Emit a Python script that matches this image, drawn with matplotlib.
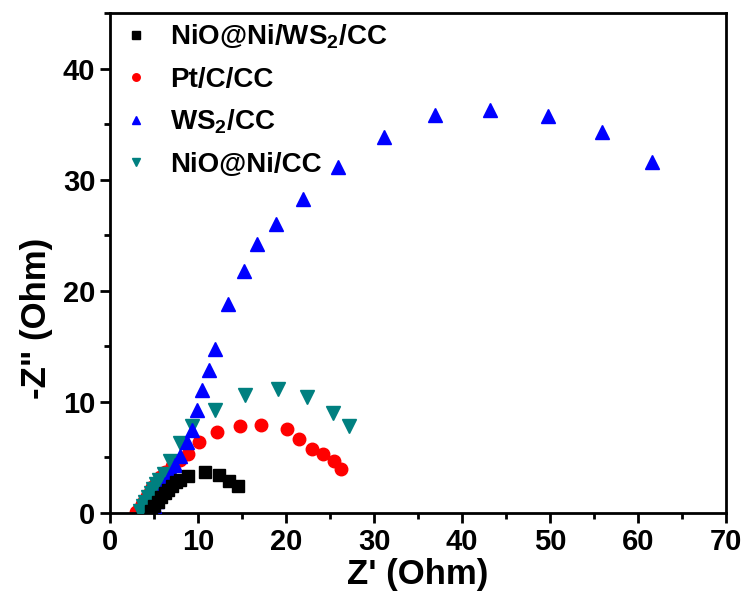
import matplotlib
matplotlib.use("Agg")
import matplotlib.pyplot as plt
from matplotlib.ticker import MultipleLocator

plt.rcParams['font.family'] = ['Liberation Sans', 'DejaVu Sans']
plt.rcParams['font.weight'] = 'bold'
plt.rcParams['mathtext.fontset'] = 'custom'
plt.rcParams['mathtext.rm'] = 'Liberation Sans:bold'
plt.rcParams['mathtext.bf'] = 'Liberation Sans:bold'
plt.rcParams['mathtext.default'] = 'bf'

# NiO@Ni/WS2/CC
zr_nws = [4.6, 5.0, 5.4, 5.8, 6.2, 6.6, 7.0, 7.5, 8.0, 8.9, 10.8, 12.4, 13.5, 14.5]
zi_nws = [0.2, 0.6, 1.0, 1.4, 1.8, 2.1, 2.4, 2.8, 3.0, 3.3, 3.7, 3.4, 2.9, 2.4]

# Pt/C/CC
zr_pt = [3.0, 3.3, 3.6, 3.9, 4.2, 4.5, 4.8, 5.2, 5.7, 6.25, 7.0, 7.9, 8.9, 10.1,
         12.2, 14.8, 17.2, 20.1, 21.5, 22.9, 24.2, 25.4, 26.25]
zi_pt = [0.1, 0.4, 0.8, 1.1, 1.5, 1.9, 2.3, 2.7, 3.2, 3.7, 4.2, 4.8, 5.3, 6.4,
         7.3, 7.8, 7.9, 7.6, 6.7, 5.8, 5.3, 4.7, 4.0]

# WS2/CC
zr_ws = [4.7, 5.0, 5.3, 5.6, 5.9, 6.2, 6.6, 7.0, 7.4, 7.95, 8.7, 9.3, 9.85, 10.5,
         11.2, 11.9, 13.4, 15.2, 16.7, 18.9, 21.9, 25.9, 31.1, 36.9, 43.2, 49.7,
         55.9, 61.6]
zi_ws = [0.2, 0.6, 1.1, 1.6, 2.1, 2.6, 3.1, 3.6, 4.3, 5.1, 6.4, 7.5, 9.3, 11.1,
         12.9, 14.8, 18.8, 21.8, 24.2, 26.0, 28.3, 31.1, 33.8, 35.8, 36.3, 35.7,
         34.3, 31.6]

# NiO@Ni/CC
zr_ni = [3.4, 3.7, 4.0, 4.3, 4.6, 4.9, 5.2, 5.6, 6.1, 6.8, 7.9, 9.3, 11.9, 15.3,
         19.05, 22.4, 25.3, 27.1]
zi_ni = [0.2, 0.6, 1.0, 1.4, 1.8, 2.2, 2.6, 3.0, 3.5, 4.7, 6.3, 7.8, 9.3, 10.6,
         11.2, 10.4, 9.0, 7.8]

fig = plt.figure(figsize=(7.46, 6.05), dpi=100)
ax = fig.add_axes([0.1475, 0.152, 0.826, 0.8265])

ax.plot(zr_nws, zi_nws, 's', color='black', ms=8.5, label='NiO@Ni/WS$_2$/CC', zorder=5)
ax.plot(zr_pt, zi_pt, 'o', color='red', ms=9, label='Pt/C/CC', zorder=2)
ax.plot(zr_ws, zi_ws, '^', color='blue', ms=10, label='WS$_2$/CC', zorder=4)
ax.plot(zr_ni, zi_ni, 'v', color='#008080', ms=10, label='NiO@Ni/CC', zorder=3)

ax.set_xlim(0, 70)
ax.set_ylim(0, 45)
ax.xaxis.set_major_locator(MultipleLocator(10))
ax.xaxis.set_minor_locator(MultipleLocator(5))
ax.yaxis.set_major_locator(MultipleLocator(10))
ax.yaxis.set_minor_locator(MultipleLocator(5))
ax.tick_params(which='major', direction='out', length=7, width=2, labelsize=21)
ax.tick_params(which='minor', direction='out', length=4, width=2)
for s in ax.spines.values():
    s.set_linewidth(2)

ax.set_xlabel("Z' (Ohm)", fontsize=25, fontweight='bold', labelpad=2)
ax.set_ylabel('-Z" (Ohm)', fontsize=25, fontweight='bold')
ax.yaxis.set_label_coords(-0.092, 0.39)

ax.legend(loc='upper left', frameon=False, fontsize=20, markerscale=0.6,
          handletextpad=0.6, labelspacing=0.55, borderaxespad=0.05,
          handlelength=1.2, borderpad=0.3)

plt.savefig("out.png", dpi=100)
